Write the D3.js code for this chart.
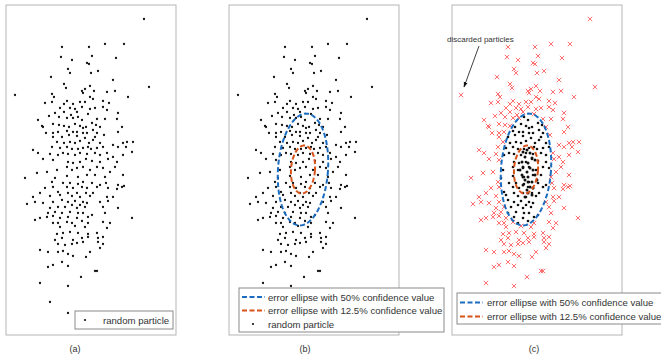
<!DOCTYPE html>
<html>
<head>
<meta charset="utf-8">
<script src="https://cdn.jsdelivr.net/npm/d3@7"></script>
<style>
  body { margin: 0; background: #fff; }
  text { font-family: "Liberation Sans", Arial, sans-serif; fill: #333; }
</style>
</head>
<body>
<div id="chart"></div>
<script>
// particle positions, same cloud reused in (b) and (c)
const particles = [
  [144,19],[62,47],[89,47],[105,44],[124,44],[61,57],[92,56],[72,60],[116,58],[87,63],[89,64],[68,69],
  [70,73],[91,73],[98,71],[51,77],[113,80],[64,84],[66,88],[90,86],[85,89],[82,91],[94,91],[107,92],
  [115,91],[15,95],[149,87],[52,94],[54,97],[83,93],[90,97],[93,99],[128,97],[67,101],[45,103],[52,102],
  [64,104],[73,104],[80,102],[85,102],[103,101],[109,103],[60,108],[70,108],[75,109],[82,107],[90,109],
  [95,108],[103,107],[107,110],[118,113],[55,113],[64,112],[71,115],[77,112],[88,114],[49,116],[59,117],
  [67,118],[73,118],[78,117],[82,120],[97,119],[105,119],[117,119],[38,120],[42,126],[43,127],[53,124],
  [59,125],[64,126],[69,127],[75,124],[80,126],[83,128],[86,127],[92,123],[96,125],[100,127],[122,127],
  [46,133],[53,133],[58,132],[67,131],[73,132],[77,132],[83,133],[87,133],[93,130],[97,133],[118,132],
  [104,135],[53,137],[62,137],[69,135],[77,136],[85,138],[95,137],[57,142],[64,143],[70,142],[75,143],
  [80,141],[89,143],[93,140],[100,143],[113,145],[123,143],[127,142],[133,142],[33,150],[52,147],[60,148],
  [67,147],[72,149],[78,149],[83,148],[88,147],[91,149],[97,148],[103,147],[118,147],[126,147],[38,153],
  [43,159],[50,154],[58,155],[63,153],[68,154],[75,155],[80,153],[87,154],[95,153],[100,155],[107,153],
  [113,157],[132,152],[123,155],[53,160],[68,162],[73,163],[80,162],[86,159],[92,161],[100,162],[108,159],
  [117,162],[37,173],[47,172],[57,170],[67,167],[72,170],[77,168],[83,167],[90,170],[97,167],[103,168],
  [110,172],[115,167],[123,175],[25,178],[55,178],[67,176],[78,177],[87,175],[95,175],[105,177],
  [52,182],[63,183],[70,183],[78,184],[83,182],[92,183],[100,185],[106,183],[118,185],[124,186],[45,188],
  [53,187],[67,187],[73,188],[82,187],[87,188],[97,187],[108,188],[117,189],[122,187],[40,193],[58,192],
  [68,193],[77,193],[86,193],[93,193],[33,197],[50,196],[60,195],[72,196],[80,197],[90,196],[107,197],
  [113,197],[27,204],[35,202],[43,203],[53,202],[62,200],[68,202],[75,201],[83,202],[72,205],[80,205],
  [87,203],[100,202],[108,201],[50,208],[58,207],[65,207],[77,208],[85,207],[103,207],[118,208],[48,213],
  [55,212],[62,213],[70,212],[78,213],[83,213],[92,215],[35,220],[40,218],[47,217],[53,216],[60,218],
  [68,217],[77,218],[88,217],[105,213],[132,218],[53,223],[58,223],[67,222],[72,223],[82,221],[88,223],
  [103,222],[110,223],[60,227],[75,226],[85,227],[107,228],[57,234],[63,233],[70,232],[78,233],[88,234],
  [97,233],[55,240],[62,238],[73,240],[82,238],[88,237],[98,238],[103,237],[58,244],[65,245],[72,244],
  [77,243],[83,242],[98,242],[103,244],[40,250],[48,252],[58,252],[63,251],[68,254],[73,256],[86,257],
  [90,252],[100,248],[53,265],[48,267],[68,266],[62,262],[95,271],[97,271],[81,277],[40,283],[68,286],
  [50,302],[68,313]
];

// extra resampled particles crowding the inner ellipse in panel (c)
const resampled = [
  [77,152],[81,150],[84,153],[79,157],[86,158],[76,162],[82,163],[89,160],[77,167],[84,168],[81,172],
  [87,170],[76,175],[82,177],[89,175],[79,180],[86,182],[77,185],[84,187],[81,190],[87,188],[82,193],
  [79,197],[86,195],[74,170],[91,180],[77,177],[82,182]
];

// error ellipses: centre, semi-axes, tilt (degrees)
const ellipses = [
  { name: 'error ellipse with 50% confidence value',   cx: 80, cy: 169.5, a: 25, b: 56, tilt: 4, color: '#1c6dbf' },
  { name: 'error ellipse with 12.5% confidence value', cx: 80, cy: 169.5, a: 12, b: 24, tilt: 4, color: '#d95319' }
];

const pointLabel = 'random particle';
const panelLabels = ['(a)', '(b)', '(c)'];
const annotation = 'discarded particles';

const width = 661, height = 357;
const panelW = 170, panelH = 330, panelTop = 5;
const panelLefts = [6, 229, 452];
const labelXs = [75, 305, 534];

const svg = d3.select('#chart').append('svg')
  .attr('width', width)
  .attr('height', height);

svg.append('defs').append('marker')
  .attr('id', 'arrow')
  .attr('viewBox', '0 0 10 10')
  .attr('refX', 9).attr('refY', 5)
  .attr('markerWidth', 7).attr('markerHeight', 7)
  .attr('orient', 'auto')
  .append('path')
  .attr('d', 'M0,1.5 L10,5 L0,8.5 Z')
  .attr('fill', '#111');

const x = d3.scaleLinear().domain([6, 176]).range([0, panelW]);
const y = d3.scaleLinear().domain([5, 335]).range([0, panelH]);

function ellipsePts(e) {
  const phi = e.tilt * Math.PI / 180;
  return d3.range(0, 2 * Math.PI + 0.001, Math.PI / 60).map(t => {
    const u = e.a * Math.cos(t), v = e.b * Math.sin(t);
    return [e.cx + u * Math.cos(phi) - v * Math.sin(phi), e.cy + u * Math.sin(phi) + v * Math.cos(phi)];
  });
}

function inside(p, e) {
  const phi = e.tilt * Math.PI / 180;
  const dx = p[0] - e.cx, dy = p[1] - e.cy;
  const u = dx * Math.cos(phi) + dy * Math.sin(phi);
  const v = -dx * Math.sin(phi) + dy * Math.cos(phi);
  return (u / e.a) ** 2 + (v / e.b) ** 2 <= 1;
}

const line = d3.line().x(d => x(d[0])).y(d => y(d[1]));

function drawEllipses(g) {
  ellipses.forEach(e => {
    g.append('path')
      .attr('d', line(ellipsePts(e)))
      .attr('fill', 'none')
      .attr('stroke', e.color)
      .attr('stroke-width', 2)
      .attr('stroke-dasharray', '5,2.5');
  });
}

function dots(g, data, r) {
  g.selectAll(null).data(data).enter().append('circle')
    .attr('cx', d => x(d[0]))
    .attr('cy', d => y(d[1]))
    .attr('r', r)
    .attr('fill', '#111');
}

const panels = panelLefts.map((left, i) => {
  const g = svg.append('g').attr('transform', `translate(${left},${panelTop})`);
  g.append('rect')
    .attr('width', panelW).attr('height', panelH)
    .attr('fill', '#fff')
    .attr('stroke', '#b5b5b5').attr('stroke-width', 1);
  svg.append('text')
    .attr('x', labelXs[i])
    .attr('y', 352)
    .attr('text-anchor', 'middle')
    .attr('font-size', 9)
    .text(panelLabels[i]);
  return g;
});

// (a) and (b): all particles
dots(panels[0], particles, 1.15);
dots(panels[1], particles, 1.15);
drawEllipses(panels[1]);

// (c): keep particles inside the 50% ellipse, discard the rest
const kept = particles.filter(p => inside(p, ellipses[0]));
const dropped = particles.filter(p => !inside(p, ellipses[0]));
panels[2].selectAll(null).data(dropped).enter().append('path')
  .attr('d', d => {
    const px = x(d[0]), py = y(d[1]), s = 2.2;
    return `M${px - s},${py - s}L${px + s},${py + s}M${px - s},${py + s}L${px + s},${py - s}`;
  })
  .attr('stroke', '#ff6060')
  .attr('stroke-width', 0.9);
dots(panels[2], kept, 1.3);
dots(panels[2], resampled, 1.5);
drawEllipses(panels[2]);

// annotation in (c)
svg.append('text')
  .attr('x', 447).attr('y', 42)
  .attr('font-size', 8)
  .text(annotation);
svg.append('line')
  .attr('x1', 479).attr('y1', 46)
  .attr('x2', 464).attr('y2', 87)
  .attr('stroke', '#111').attr('stroke-width', 0.8)
  .attr('marker-end', 'url(#arrow)');

// legends
function legend(box, rows) {
  svg.append('rect')
    .attr('x', box.x).attr('y', box.y)
    .attr('width', box.w).attr('height', box.h)
    .attr('fill', '#fff')
    .attr('stroke', '#8a8a8a').attr('stroke-width', 1);
  rows.forEach((r, i) => {
    const ry = box.y + box.pad + i * box.step;
    if (r.color) {
      svg.append('line')
        .attr('x1', box.x + 3).attr('x2', box.x + box.lineW)
        .attr('y1', ry).attr('y2', ry)
        .attr('stroke', r.color).attr('stroke-width', 2)
        .attr('stroke-dasharray', '5,2.5');
    } else {
      svg.append('circle')
        .attr('cx', box.x + box.dotX).attr('cy', ry).attr('r', 1.1).attr('fill', '#111');
    }
    svg.append('text')
      .attr('x', box.x + box.textX).attr('y', ry + 3.5)
      .attr('font-size', 9.6)
      .text(r.label);
  });
}

legend({ x: 75, y: 311, w: 98, h: 18, pad: 9, step: 0, dotX: 10, textX: 28, lineW: 0 },
  [{ label: pointLabel }]);
legend({ x: 239, y: 288, w: 205, h: 44, pad: 9, step: 13.5, dotX: 14, textX: 29, lineW: 26 },
  [{ label: ellipses[0].name, color: ellipses[0].color },
   { label: ellipses[1].name, color: ellipses[1].color },
   { label: pointLabel }]);
legend({ x: 457, y: 293, w: 215, h: 31, pad: 9.5, step: 14, dotX: 14, textX: 30, lineW: 26 },
  [{ label: ellipses[0].name, color: ellipses[0].color },
   { label: ellipses[1].name, color: ellipses[1].color }]);
</script>
</body>
</html>
